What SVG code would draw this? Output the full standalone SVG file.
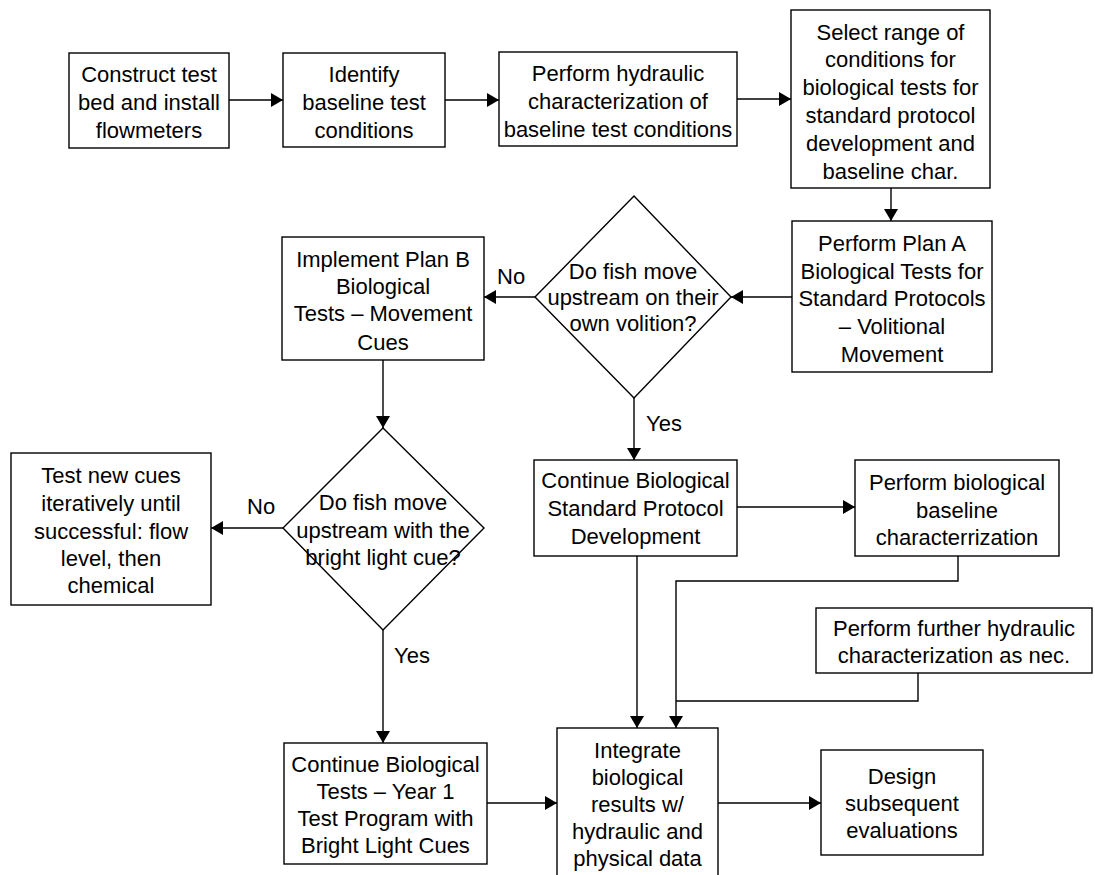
<svg xmlns="http://www.w3.org/2000/svg" width="1095" height="875" viewBox="0 0 1095 875">
<style>
.box{fill:#fff;stroke:#000;stroke-width:1.4}
.t{font-family:"Liberation Sans",Arial,sans-serif;font-size:22px;fill:#000;text-anchor:middle}
.l{font-family:"Liberation Sans",Arial,sans-serif;font-size:22px;fill:#000}
.c{fill:none;stroke:#000;stroke-width:1.4}
</style>
<defs>
<marker id="ah" viewBox="0 0 12 14" refX="12" refY="7" markerWidth="12" markerHeight="14" markerUnits="userSpaceOnUse" orient="auto">
<path d="M0,0 L12,7 L0,14 Z" fill="#000"/>
</marker>
</defs>
<rect width="1095" height="875" fill="#fff"/>

<g id="connectors">
<line class="c" x1="229" y1="100" x2="283" y2="100" marker-end="url(#ah)"/>
<line class="c" x1="445" y1="100" x2="499" y2="100" marker-end="url(#ah)"/>
<line class="c" x1="737" y1="99" x2="791" y2="99" marker-end="url(#ah)"/>
<line class="c" x1="891" y1="188" x2="891" y2="221" marker-end="url(#ah)"/>
<line class="c" x1="792" y1="297" x2="731" y2="297" marker-end="url(#ah)"/>
<line class="c" x1="535" y1="297" x2="484" y2="297" marker-end="url(#ah)"/>
<line class="c" x1="634" y1="398" x2="634" y2="460" marker-end="url(#ah)"/>
<line class="c" x1="383" y1="360" x2="383" y2="428" marker-end="url(#ah)"/>
<line class="c" x1="283" y1="528" x2="211" y2="528" marker-end="url(#ah)"/>
<line class="c" x1="383" y1="630" x2="383" y2="743" marker-end="url(#ah)"/>
<line class="c" x1="737" y1="507" x2="855" y2="507" marker-end="url(#ah)"/>
<line class="c" x1="637" y1="556" x2="637" y2="728" marker-end="url(#ah)"/>
<polyline class="c" points="958,556 958,581 676,581 676,728" marker-end="url(#ah)"/>
<polyline class="c" points="918,673 918,701 676,701"/>
<line class="c" x1="487" y1="803" x2="557" y2="803" marker-end="url(#ah)"/>
<line class="c" x1="718" y1="803" x2="821" y2="803" marker-end="url(#ah)"/>
<text class="l" x="497" y="284">No</text>
<text class="l" x="646" y="431">Yes</text>
<text class="l" x="247" y="514">No</text>
<text class="l" x="394" y="663">Yes</text>
</g>

<g id="n1"><rect class="box" x="69" y="53" width="160" height="95"/>
<text class="t"><tspan x="149" y="82">Construct test</tspan><tspan x="149" y="110">bed and install</tspan><tspan x="149" y="138">flowmeters</tspan></text></g>

<g id="n2"><rect class="box" x="283" y="53" width="162" height="94"/>
<text class="t"><tspan x="364" y="82">Identify</tspan><tspan x="364" y="110">baseline test</tspan><tspan x="364" y="138">conditions</tspan></text></g>

<g id="n3"><rect class="box" x="499" y="52" width="238" height="94"/>
<text class="t"><tspan x="618" y="81">Perform hydraulic</tspan><tspan x="618" y="109">characterization of</tspan><tspan x="618" y="137">baseline test conditions</tspan></text></g>

<g id="n4"><rect class="box" x="791" y="10" width="199" height="178"/>
<text class="t"><tspan x="890.5" y="40">Select range of</tspan><tspan x="890.5" y="67">conditions for</tspan><tspan x="890.5" y="95">biological tests for</tspan><tspan x="890.5" y="123">standard protocol</tspan><tspan x="890.5" y="151">development and</tspan><tspan x="890.5" y="179">baseline char.</tspan></text></g>

<g id="n5"><rect class="box" x="792" y="221" width="200" height="151"/>
<text class="t"><tspan x="892" y="251">Perform Plan A</tspan><tspan x="892" y="279">Biological Tests for</tspan><tspan x="892" y="306">Standard Protocols</tspan><tspan x="892" y="334">– Volitional</tspan><tspan x="892" y="362">Movement</tspan></text></g>

<g id="d1"><polygon class="box" points="634,196 731,297 634,398 535,297"/>
<text class="t"><tspan x="633" y="279">Do fish move</tspan><tspan x="633" y="305">upstream on their</tspan><tspan x="633" y="331">own volition?</tspan></text></g>

<g id="n6"><rect class="box" x="282" y="237" width="202" height="123"/>
<text class="t"><tspan x="383" y="267">Implement Plan B</tspan><tspan x="383" y="294">Biological</tspan><tspan x="383" y="321">Tests – Movement</tspan><tspan x="383" y="350">Cues</tspan></text></g>

<g id="d2"><polygon class="box" points="383,428 484,528 383,630 283,528"/>
<text class="t"><tspan x="383" y="510">Do fish move</tspan><tspan x="383" y="538">upstream with the</tspan><tspan x="383" y="565">bright light cue?</tspan></text></g>

<g id="n7"><rect class="box" x="11" y="453" width="200" height="152"/>
<text class="t"><tspan x="111" y="483">Test new cues</tspan><tspan x="111" y="511">iteratively until</tspan><tspan x="111" y="539">successful: flow</tspan><tspan x="111" y="566">level, then</tspan><tspan x="111" y="593">chemical</tspan></text></g>

<g id="n8"><rect class="box" x="534" y="460" width="203" height="96"/>
<text class="t"><tspan x="635.5" y="488">Continue Biological</tspan><tspan x="635.5" y="516">Standard Protocol</tspan><tspan x="635.5" y="544">Development</tspan></text></g>

<g id="n9"><rect class="box" x="855" y="460" width="204" height="96"/>
<text class="t"><tspan x="957" y="490">Perform biological</tspan><tspan x="957" y="518">baseline</tspan><tspan x="957" y="545">characterrization</tspan></text></g>

<g id="n10"><rect class="box" x="816" y="608" width="276" height="65"/>
<text class="t"><tspan x="954" y="636">Perform further hydraulic</tspan><tspan x="954" y="663">characterization as nec.</tspan></text></g>

<g id="n11"><rect class="box" x="284" y="743" width="203" height="121"/>
<text class="t"><tspan x="385.5" y="772">Continue Biological</tspan><tspan x="385.5" y="799">Tests – Year 1</tspan><tspan x="385.5" y="826">Test Program with</tspan><tspan x="385.5" y="853">Bright Light Cues</tspan></text></g>

<g id="n12"><rect class="box" x="557" y="728" width="161" height="152"/>
<text class="t"><tspan x="637.5" y="758">Integrate</tspan><tspan x="637.5" y="785">biological</tspan><tspan x="637.5" y="812">results w/</tspan><tspan x="637.5" y="839">hydraulic and</tspan><tspan x="637.5" y="866">physical data</tspan></text></g>

<g id="n13"><rect class="box" x="821" y="750" width="162" height="105"/>
<text class="t"><tspan x="902" y="784">Design</tspan><tspan x="902" y="811">subsequent</tspan><tspan x="902" y="838">evaluations</tspan></text></g>
</svg>
